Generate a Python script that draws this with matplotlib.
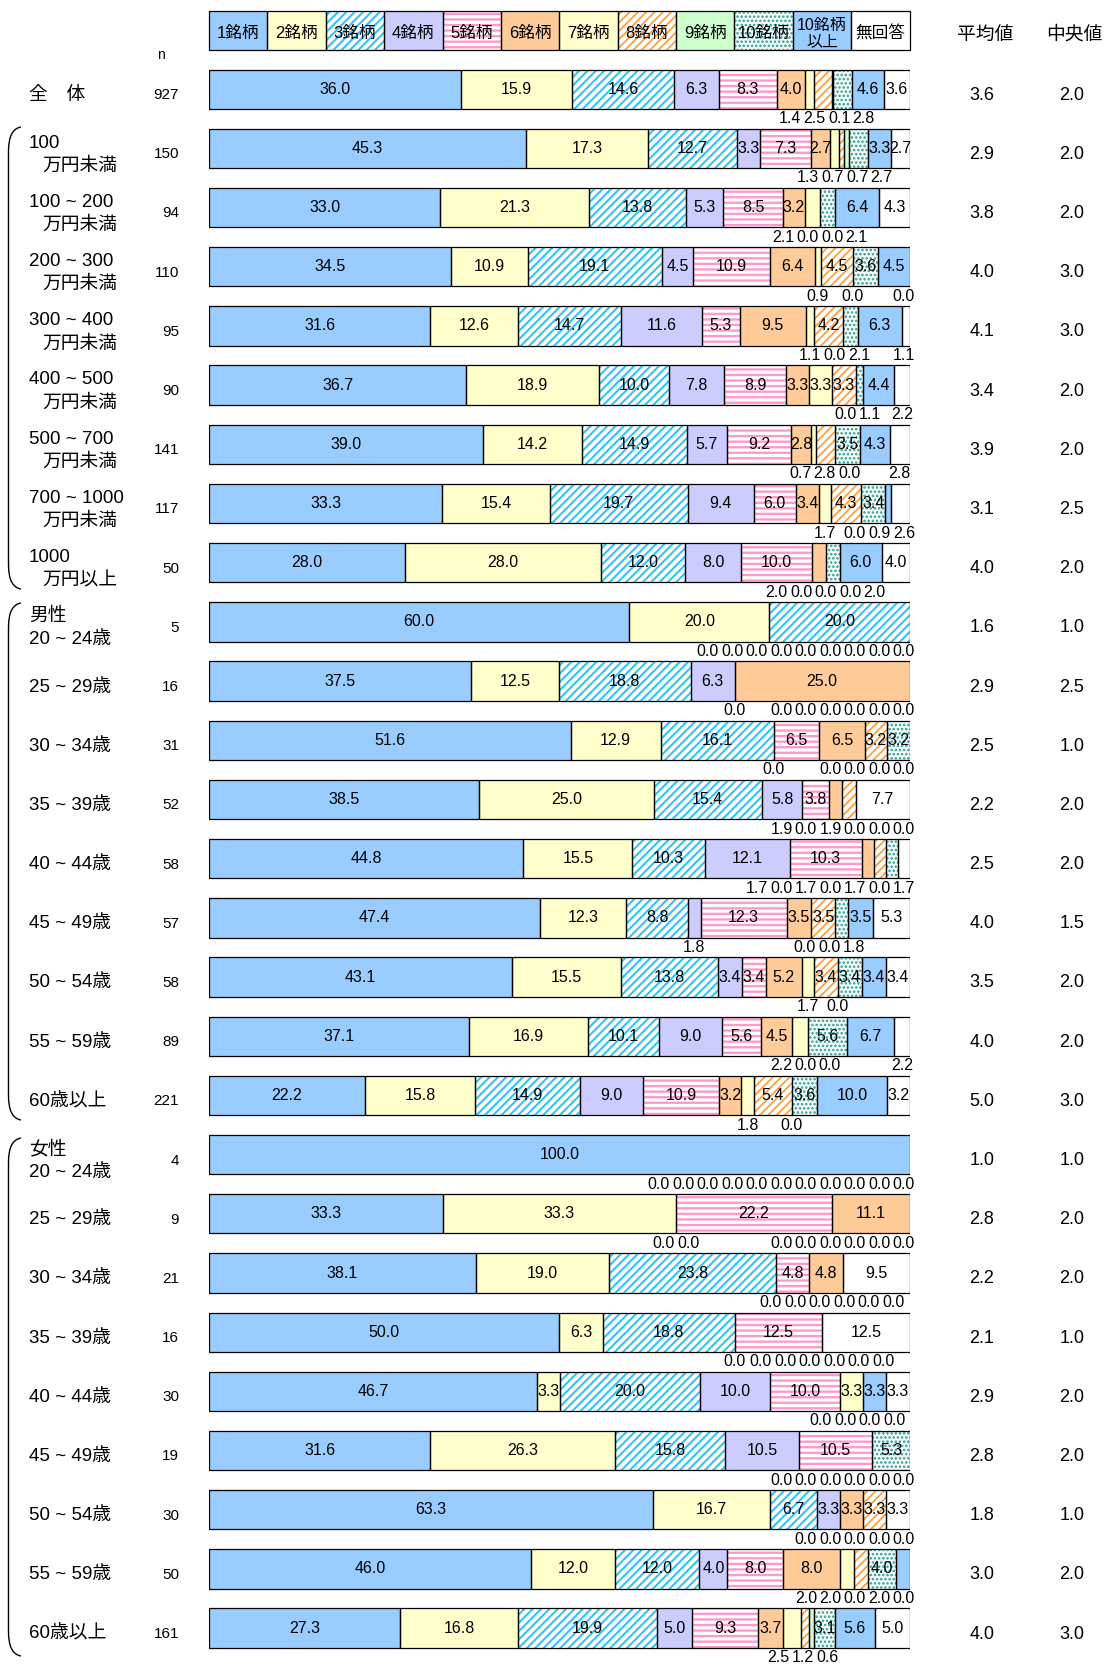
import matplotlib
matplotlib.use("Agg")
import matplotlib.pyplot as plt
from matplotlib.path import Path
from matplotlib.patches import PathPatch, Rectangle
import numpy as np

# ---- data -------------------------------------------------------------
categories = [
    "全　体",
    "100\n万円未満", "100 ~ 200\n万円未満", "200 ~ 300\n万円未満",
    "300 ~ 400\n万円未満", "400 ~ 500\n万円未満", "500 ~ 700\n万円未満",
    "700 ~ 1000\n万円未満", "1000\n万円以上",
    "男性\n20 ~ 24歳", "25 ~ 29歳", "30 ~ 34歳", "35 ~ 39歳", "40 ~ 44歳",
    "45 ~ 49歳", "50 ~ 54歳", "55 ~ 59歳", "60歳以上",
    "女性\n20 ~ 24歳", "25 ~ 29歳", "30 ~ 34歳", "35 ~ 39歳", "40 ~ 44歳",
    "45 ~ 49歳", "50 ~ 54歳", "55 ~ 59歳", "60歳以上",
]
n_values = [927, 150, 94, 110, 95, 90, 141, 117, 50,
            5, 16, 31, 52, 58, 57, 58, 89, 221,
            4, 9, 21, 16, 30, 19, 30, 50, 161]
mean_values = [3.6, 2.9, 3.8, 4.0, 4.1, 3.4, 3.9, 3.1, 4.0,
               1.6, 2.9, 2.5, 2.2, 2.5, 4.0, 3.5, 4.0, 5.0,
               1.0, 2.8, 2.2, 2.1, 2.9, 2.8, 1.8, 3.0, 4.0]
median_values = [2.0, 2.0, 2.0, 3.0, 3.0, 2.0, 2.0, 2.5, 2.0,
                 1.0, 2.5, 1.0, 2.0, 2.0, 1.5, 2.0, 2.0, 3.0,
                 1.0, 2.0, 2.0, 1.0, 2.0, 2.0, 1.0, 2.0, 3.0]

series_names = ["1銘柄", "2銘柄", "3銘柄", "4銘柄", "5銘柄", "6銘柄",
                "7銘柄", "8銘柄", "9銘柄", "10銘柄", "10銘柄\n以上", "無回答"]

stocks_1 = [36.0, 45.3, 33.0, 34.5, 31.6, 36.7, 39.0, 33.3, 28.0,
            60.0, 37.5, 51.6, 38.5, 44.8, 47.4, 43.1, 37.1, 22.2,
            100.0, 33.3, 38.1, 50.0, 46.7, 31.6, 63.3, 46.0, 27.3]
stocks_2 = [15.9, 17.3, 21.3, 10.9, 12.6, 18.9, 14.2, 15.4, 28.0,
            20.0, 12.5, 12.9, 25.0, 15.5, 12.3, 15.5, 16.9, 15.8,
            0.0, 33.3, 19.0, 6.3, 3.3, 26.3, 16.7, 12.0, 16.8]
stocks_3 = [14.6, 12.7, 13.8, 19.1, 14.7, 10.0, 14.9, 19.7, 12.0,
            20.0, 18.8, 16.1, 15.4, 10.3, 8.8, 13.8, 10.1, 14.9,
            0.0, 0.0, 23.8, 18.8, 20.0, 15.8, 6.7, 12.0, 19.9]
stocks_4 = [6.3, 3.3, 5.3, 4.5, 11.6, 7.8, 5.7, 9.4, 8.0,
            0.0, 6.3, 0.0, 5.8, 12.1, 1.8, 3.4, 9.0, 9.0,
            0.0, 0.0, 0.0, 0.0, 10.0, 10.5, 3.3, 4.0, 5.0]
stocks_5 = [8.3, 7.3, 8.5, 10.9, 5.3, 8.9, 9.2, 6.0, 10.0,
            0.0, 0.0, 6.5, 3.8, 10.3, 12.3, 3.4, 5.6, 10.9,
            0.0, 22.2, 4.8, 12.5, 10.0, 10.5, 0.0, 8.0, 9.3]
stocks_6 = [4.0, 2.7, 3.2, 6.4, 9.5, 3.3, 2.8, 3.4, 2.0,
            0.0, 25.0, 6.5, 1.9, 1.7, 3.5, 5.2, 4.5, 3.2,
            0.0, 11.1, 4.8, 0.0, 0.0, 0.0, 3.3, 8.0, 3.7]
stocks_7 = [1.4, 1.3, 2.1, 0.9, 1.1, 3.3, 0.7, 1.7, 0.0,
            0.0, 0.0, 0.0, 0.0, 0.0, 0.0, 1.7, 2.2, 1.8,
            0.0, 0.0, 0.0, 0.0, 3.3, 0.0, 0.0, 2.0, 2.5]
stocks_8 = [2.5, 0.7, 0.0, 4.5, 4.2, 3.3, 2.8, 4.3, 0.0,
            0.0, 0.0, 3.2, 1.9, 1.7, 3.5, 3.4, 0.0, 5.4,
            0.0, 0.0, 0.0, 0.0, 0.0, 0.0, 3.3, 2.0, 1.2]
stocks_9 = [0.1, 0.7, 0.0, 0.0, 0.0, 0.0, 0.0, 0.0, 0.0,
            0.0, 0.0, 0.0, 0.0, 0.0, 0.0, 0.0, 0.0, 0.0,
            0.0, 0.0, 0.0, 0.0, 0.0, 0.0, 0.0, 0.0, 0.6]
stocks_10 = [2.8, 2.7, 2.1, 3.6, 2.1, 1.1, 3.5, 3.4, 2.0,
             0.0, 0.0, 3.2, 0.0, 1.7, 1.8, 3.4, 5.6, 3.6,
             0.0, 0.0, 0.0, 0.0, 0.0, 5.3, 0.0, 4.0, 3.1]
stocks_over10 = [4.6, 3.3, 6.4, 4.5, 6.3, 4.4, 4.3, 0.9, 6.0,
                 0.0, 0.0, 0.0, 0.0, 0.0, 3.5, 3.4, 6.7, 10.0,
                 0.0, 0.0, 0.0, 0.0, 3.3, 0.0, 0.0, 2.0, 5.6]
no_answer = [3.6, 2.7, 4.3, 0.0, 1.1, 2.2, 2.8, 2.6, 4.0,
             0.0, 0.0, 0.0, 7.7, 1.7, 5.3, 3.4, 2.2, 3.2,
             0.0, 0.0, 9.5, 12.5, 3.3, 0.0, 3.3, 0.0, 5.0]

# ---- styling ------------------------------------------------------------
styles = [
    dict(face="#99CCFF"),
    dict(face="#FFFFCC"),
    dict(face="white", hatch="////", hc="#33C4F2", hlw=1.5),
    dict(face="#CCCCFF"),
    dict(face="white", hatch="---", hc="#FF99CC", hlw=1.7),
    dict(face="#FFCC99"),
    dict(face="#FFFFCC"),
    dict(face="white", hatch="////", hc="#FF9F3A", hlw=1.3),
    dict(face="#CCFFCC"),
    dict(face="#F4FCFA", hatch="....", hc="#2E9C92", hlw=1.2),
    dict(face="#99CCFF"),
    dict(face="white"),
]

FAM = ["Liberation Sans", "Noto Sans CJK JP", "DejaVu Sans"]
plt.rcParams["font.family"] = FAM

W, H = 1107, 1664
BAR_L, BAR_R = 209.0, 909.6
ROW0, STEP = 89.2, 59.19
BAR_H = 0.664
TXT_DY = 0.10          # side columns sit a little below the bar centre


def px2x(px):
    return (px - BAR_L) / (BAR_R - BAR_L) * 100.0


def px2row(py):
    return (py - ROW0) / STEP


fig = plt.figure(figsize=(W / 100, H / 100), dpi=100)
ax = fig.add_axes([BAR_L / W, 0, (BAR_R - BAR_L) / W, 1])
ax.set_xlim(0, 100)
ax.set_ylim(px2row(H), px2row(0))
ax.axis("off")

series = [stocks_1, stocks_2, stocks_3, stocks_4, stocks_5, stocks_6,
          stocks_7, stocks_8, stocks_9, stocks_10, stocks_over10, no_answer]
values = np.array(series, dtype=float).T          # rows x series
shares = values / values.sum(axis=1, keepdims=True) * 100.0
rows = np.arange(len(categories))

VAL_FS = 11.5
left = np.zeros(len(categories))
for j, st in enumerate(styles):
    w = shares[:, j]
    m = w > 0
    with plt.rc_context({"hatch.linewidth": st.get("hlw", 1.0)}):
        ax.barh(rows[m], w[m], left=left[m], height=BAR_H, color=st["face"],
                edgecolor=st.get("hc", "none"), hatch=st.get("hatch"),
                linewidth=0, zorder=2)
    ax.barh(rows[m], w[m], left=left[m], height=BAR_H, fill=False,
            edgecolor="black", linewidth=0.9, zorder=3)
    left += w

# ---- value labels -------------------------------------------------------
GAP = 3.5
X_MAX = 99.2
# a few narrow segments whose labels still sit inside the bar
LABEL_INSIDE = {(1, 5), (1, 11), (6, 5)}


def spread(xs, gap, hi):
    blocks = []
    for x in xs:
        blocks.append([x])
        while len(blocks) > 1:
            a, b = blocks[-2], blocks[-1]
            sa = np.mean([v - k * gap for k, v in enumerate(a)])
            sb = np.mean([v - k * gap for k, v in enumerate(b)])
            if sa + len(a) * gap > sb:
                blocks[-2:] = [a + b]
            else:
                break
    pos = []
    for b in blocks:
        s = np.mean([v - k * gap for k, v in enumerate(b)])
        pos.extend(s + k * gap for k in range(len(b)))
    pos[-1] = min(pos[-1], hi)
    for i in range(len(pos) - 2, -1, -1):
        pos[i] = min(pos[i], pos[i + 1] - gap)
    return pos


for i in rows:
    cum = 0.0
    below = []
    for j in range(len(series)):
        v = values[i, j]
        w = shares[i, j]
        cx = cum + w / 2
        if v >= 3.0 or (i, j) in LABEL_INSIDE:
            ax.text(cx, i, f"{v:.1f}", ha="center", va="center",
                    fontsize=VAL_FS, zorder=5)
        else:
            below.append((cx, f"{v:.1f}"))
        cum += w
    if below:
        xs = spread([b[0] for b in below], GAP, X_MAX)
        for x, (_, t) in zip(xs, below):
            ax.text(x, i + 0.5, t, ha="center", va="center",
                    fontsize=VAL_FS, zorder=5, clip_on=False)

# ---- legend strip -------------------------------------------------------
leg_top, leg_bot = px2row(11), px2row(50)
cw = 100.0 / len(series_names)
for j, (name, st) in enumerate(zip(series_names, styles)):
    x0 = j * cw
    with plt.rc_context({"hatch.linewidth": st.get("hlw", 1.0)}):
        ax.add_patch(Rectangle((x0, leg_top), cw, leg_bot - leg_top,
                               facecolor=st["face"],
                               edgecolor=st.get("hc", "none"),
                               hatch=st.get("hatch"), linewidth=0, zorder=2,
                               clip_on=False))
    ax.add_patch(Rectangle((x0, leg_top), cw, leg_bot - leg_top, fill=False,
                           edgecolor="black", linewidth=0.9, zorder=3,
                           clip_on=False))
    fs = 11.5 if "\n" in name else 12
    ax.text(x0 + cw / 2, (leg_top + leg_bot) / 2 + 0.05, name, ha="center",
            va="center", fontsize=fs, linespacing=1.15, zorder=5,
            clip_on=False)

# ---- row labels, n, mean, median ---------------------------------------
LBL_FS = 13.5
for i, cat in enumerate(categories):
    y = i + TXT_DY
    parts = cat.split("\n")
    if len(parts) == 1:
        ax.text(px2x(29), y, parts[0], ha="left", va="center",
                fontsize=LBL_FS, clip_on=False)
    else:
        ax.text(px2x(29), y - 0.19, parts[0], ha="left", va="center",
                fontsize=LBL_FS, clip_on=False)
        x2 = px2x(42.5) if parts[1].startswith("万円") else px2x(29)
        ax.text(x2, y + 0.20, parts[1], ha="left", va="center",
                fontsize=LBL_FS, clip_on=False)
    ax.text(px2x(179), y, f"{n_values[i]}", ha="right", va="center",
            fontsize=11, clip_on=False)
    ax.text(px2x(982), y, f"{mean_values[i]:.1f}", ha="center", va="center",
            fontsize=13, clip_on=False)
    ax.text(px2x(1072), y, f"{median_values[i]:.1f}", ha="center",
            va="center", fontsize=13, clip_on=False)

ax.text(px2x(161), px2row(55), "n", ha="center", va="center", fontsize=10,
        clip_on=False)
ax.text(px2x(985), px2row(35), "平均値", ha="center", va="center",
        fontsize=13.5, clip_on=False)
ax.text(px2x(1074), px2row(35), "中央値", ha="center", va="center",
        fontsize=13.5, clip_on=False)

# ---- group brackets -----------------------------------------------------
def bracket(top_px, bot_px, x_in=21.0, x_out=8.5, r=24.0):
    verts = [
        (px2x(x_in), px2row(top_px)),
        (px2x(x_out), px2row(top_px + 2)),
        (px2x(x_out), px2row(top_px + r)),
        (px2x(x_out), px2row(bot_px - r)),
        (px2x(x_out), px2row(bot_px - 2)),
        (px2x(x_in), px2row(bot_px)),
    ]
    codes = [Path.MOVETO, Path.CURVE3, Path.CURVE3, Path.LINETO,
             Path.CURVE3, Path.CURVE3]
    ax.add_patch(PathPatch(Path(verts, codes), fill=False, edgecolor="black",
                           linewidth=1.0, clip_on=False))


bracket(127, 589)
bracket(603, 1120)
bracket(1138, 1656)

fig.savefig("out.png", dpi=100)
